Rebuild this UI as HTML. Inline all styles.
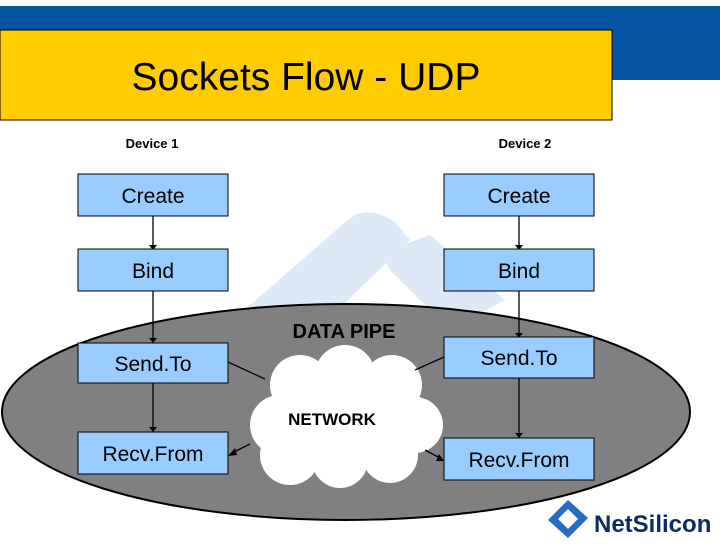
<!DOCTYPE html>
<html><head><style>
body{margin:0;width:720px;height:540px;overflow:hidden;background:#fff;font-family:"Liberation Sans",sans-serif}
</style></head><body>
<svg width="720" height="540" xmlns="http://www.w3.org/2000/svg" font-family="Liberation Sans, sans-serif">
<rect x="0" y="6" width="720" height="74" fill="#0553a3"/>
<rect x="0" y="30" width="612" height="90" fill="#ffcc00" stroke="#000" stroke-width="1"/>
<text x="306" y="90" font-size="39" text-anchor="middle">Sockets Flow - UDP</text>
<text x="152" y="148" font-size="13" font-weight="bold" text-anchor="middle">Device 1</text>
<text x="525" y="148" font-size="13" font-weight="bold" text-anchor="middle">Device 2</text>
<g fill="#dde9f6">
<path d="M210 340 L350 218 Q370 205 395 222 L410 240 L265 380 Z"/>
<path d="M390 270 Q380 255 395 248 L430 235 L505 300 L450 330 Z"/>
</g>
<ellipse cx="346" cy="412" rx="344" ry="108" fill="#808080" stroke="#000" stroke-width="2"/>
<g fill="#fff">
<circle cx="300" cy="385" r="30"/><circle cx="345" cy="375" r="30"/><circle cx="392" cy="385" r="30"/>
<circle cx="280" cy="425" r="30"/><circle cx="415" cy="425" r="28"/><circle cx="290" cy="455" r="30"/>
<circle cx="340" cy="460" r="28"/><circle cx="390" cy="455" r="28"/><circle cx="345" cy="420" r="50"/>
</g>
<g stroke="#000" stroke-width="1.3" fill="none">
<line x1="153" y1="216" x2="153" y2="246"/><line x1="519" y1="216" x2="519" y2="246"/>
<line x1="153" y1="291" x2="153" y2="340"/><line x1="519" y1="291" x2="519" y2="334"/>
<line x1="153" y1="383" x2="153" y2="429"/><line x1="519" y1="378" x2="519" y2="435"/>
<line x1="228" y1="362" x2="265" y2="379"/><line x1="444" y1="357" x2="415" y2="370"/>
<line x1="250" y1="444" x2="232" y2="453"/><line x1="425" y1="450" x2="440" y2="458"/>
</g>
<g fill="#000">
<path d="M149 245 L157 245 L153 250Z"/><path d="M515 245 L523 245 L519 250Z"/>
<path d="M149 338 L157 338 L153 343Z"/><path d="M515 333 L523 333 L519 338Z"/>
<path d="M149 427 L157 427 L153 432Z"/><path d="M515 433 L523 433 L519 438Z"/>
<path d="M228 456 L235 448 L237 455Z"/><path d="M444 461 L436 461 L439 454Z"/>
</g>
<g fill="#99ccff" stroke="#000" stroke-width="1">
<rect x="78" y="174" width="150" height="42"/><rect x="444" y="174" width="150" height="42"/>
<rect x="78" y="249" width="150" height="42"/><rect x="444" y="249" width="150" height="42"/>
<rect x="78" y="343" width="150" height="40"/><rect x="444" y="337" width="150" height="41"/>
<rect x="78" y="432" width="150" height="42"/><rect x="444" y="438" width="150" height="42"/>
</g>
<g font-size="21" text-anchor="middle">
<text x="153" y="203">Create</text><text x="519" y="203">Create</text>
<text x="153" y="278">Bind</text><text x="519" y="278">Bind</text>
<text x="153" y="371">Send.To</text><text x="519" y="365">Send.To</text>
<text x="153" y="461">Recv.From</text><text x="519" y="467">Recv.From</text>
</g>
<text x="344" y="338" font-size="20" font-weight="bold" text-anchor="middle">DATA PIPE</text>
<text x="332" y="425" font-size="17" font-weight="bold" text-anchor="middle">NETWORK</text>
<path d="M548 520 L568 500 L588 518 L568 538 Z" fill="#2a6bc8"/>
<path d="M558 519 L568 509 L578 519 L568 529Z" fill="#fff"/>
<text x="594" y="532" font-size="24" font-weight="bold" fill="#0c2a66">NetSilicon</text>
</svg>
</body></html>
